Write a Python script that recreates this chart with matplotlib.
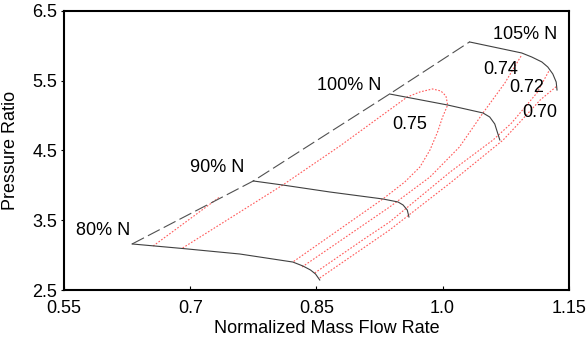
import matplotlib
matplotlib.use("Agg")
import matplotlib.pyplot as plt

plt.rcParams['font.family'] = ['Liberation Sans', 'DejaVu Sans']

## surge line (dashed)
surge_x = [0.631, 0.775, 0.937, 1.032]
surge_y = [3.16, 4.063, 5.31, 6.056]

## speed lines
n80_x = [0.631, 0.691, 0.759, 0.822, 0.834, 0.843, 0.849, 0.854]
n80_y = [3.16, 3.095, 3.016, 2.901, 2.844, 2.787, 2.729, 2.643]
n90_x = [0.775, 0.810, 0.866, 0.929, 0.947, 0.953, 0.958, 0.960]
n90_y = [4.063, 4.005, 3.905, 3.805, 3.762, 3.719, 3.647, 3.547]
n100_x = [0.937, 1.006, 1.048, 1.056, 1.062, 1.068]
n100_y = [5.310, 5.152, 5.038, 4.980, 4.880, 4.651]
n105_x = [1.032, 1.094, 1.106, 1.118, 1.125, 1.131, 1.135, 1.136]
n105_y = [6.056, 5.898, 5.840, 5.769, 5.697, 5.597, 5.482, 5.367]

## efficiency contours (red dotted)
e75_x = [0.691, 0.810, 0.878, 0.958, 0.973, 0.988, 0.998, 1.004, 1.006, 1.000,
         0.994, 0.985, 0.973, 0.955, 0.929, 0.822]
e75_y = [3.102, 4.005, 4.565, 5.267, 5.339, 5.382, 5.353, 5.281, 5.152, 4.980,
         4.765, 4.507, 4.263, 4.048, 3.805, 2.901]
e74a_x = [0.656, 0.735]
e74a_y = [3.131, 3.833]
e74_x = [0.833, 0.937, 0.985, 1.020, 1.048, 1.074, 1.094]
e74_y = [2.830, 3.690, 4.120, 4.550, 5.038, 5.468, 5.869]
e72_x = [0.848, 0.905, 0.937, 1.009, 1.060, 1.082, 1.112, 1.127]
e72_y = [2.744, 3.217, 3.475, 4.192, 4.651, 4.894, 5.324, 5.654]
e70_x = [0.854, 0.937, 1.009, 1.072, 1.092, 1.116, 1.136]
e70_y = [2.672, 3.360, 4.034, 4.651, 4.909, 5.224, 5.425]

speed_labels = ["80% N", "90% N", "100% N", "105% N"]
speed_lx = [0.597, 0.732, 0.889, 1.098]
speed_ly = [3.346, 4.25, 5.425, 6.156]
eff_labels = ["0.75", "0.74", "0.72", "0.70"]
eff_lx = [0.961, 1.069, 1.100, 1.116]
eff_ly = [4.866, 5.654, 5.396, 5.038]

xticks = [0.55, 0.7, 0.85, 1.0, 1.15]
xticklabels = ["0.55", "0.7", "0.85", "1.0", "1.15"]
yticks = [2.5, 3.5, 4.5, 5.5, 6.5]

fig = plt.figure(figsize=(5.87, 3.43), dpi=100)
ax = fig.add_axes([0.109, 0.1545, 0.860, 0.8135])

red = '#ff5a5a'
for ex, ey in [(e75_x, e75_y), (e74a_x, e74a_y), (e74_x, e74_y),
               (e72_x, e72_y), (e70_x, e70_y)]:
    ax.plot(ex, ey, color=red, lw=0.8, linestyle=(0, (1.5, 1.5)))

ax.plot(surge_x, surge_y, color='#505050', lw=0.8, dashes=(12, 4))
for sx, sy in [(n80_x, n80_y), (n90_x, n90_y), (n100_x, n100_y), (n105_x, n105_y)]:
    ax.plot(sx, sy, color='#404040', lw=0.8)

for t, x, y in zip(speed_labels, speed_lx, speed_ly):
    ax.text(x, y, t, fontsize=13, ha='center', va='center')
for t, x, y in zip(eff_labels, eff_lx, eff_ly):
    ax.text(x, y, t, fontsize=13, ha='center', va='center')

ax.set_xlim(0.55, 1.15)
ax.set_ylim(2.5, 6.5)
ax.set_xticks(xticks)
ax.set_xticklabels(xticklabels)
ax.set_yticks(yticks)
ax.tick_params(axis='x', direction='in', length=3, labelsize=13, pad=7)
ax.tick_params(axis='y', direction='out', length=2, labelsize=13, pad=3)
for s in ax.spines.values():
    s.set_linewidth(1.5)

ax.set_xlabel("Normalized Mass Flow Rate", fontsize=13)
ax.set_ylabel("Pressure Ratio", fontsize=13)
ax.xaxis.set_label_coords(0.52, -0.108)
ax.yaxis.set_label_coords(-0.09, 0.5)

fig.savefig("out.png", dpi=100)
